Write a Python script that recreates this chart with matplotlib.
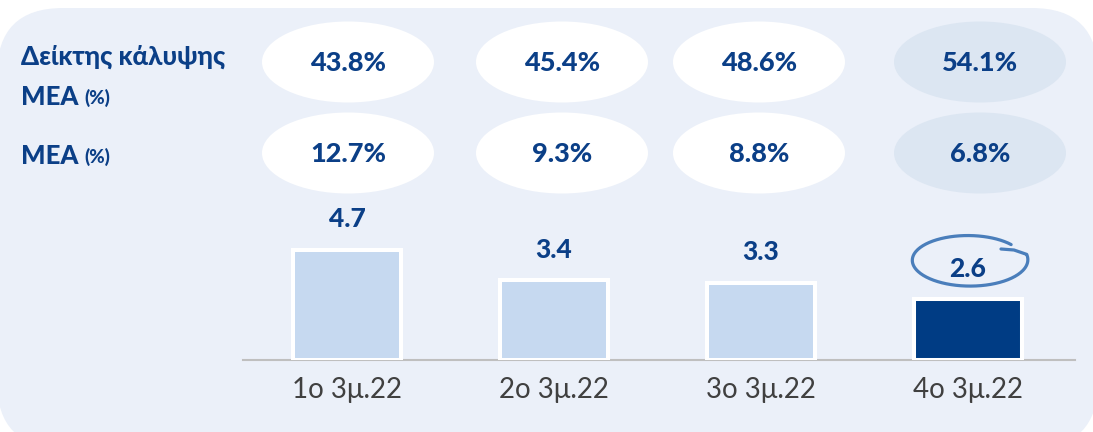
import numpy as np
import matplotlib
matplotlib.use("Agg")
import matplotlib.pyplot as plt
from matplotlib.patches import FancyBboxPatch, Ellipse

# data
quarters = ["1ο 3μ.22", "2ο 3μ.22", "3ο 3μ.22", "4ο 3μ.22"]
npe_amount = [4.7, 3.4, 3.3, 2.6]
coverage = [43.8, 45.4, 48.6, 54.1]
npe_ratio = [12.7, 9.3, 8.8, 6.8]

### colours
panel_col = "#EBF0F9"
pill_hi = "#DCE6F2"
bar_light = "#C6D9F0"
bar_dark = "#003C84"
txt_blue = "#0B3F87"
ring_col = "#4A7EBB"

W, H = 1093, 432
fig = plt.figure(figsize=(W / 100, H / 100), dpi=100)
fig.patch.set_facecolor("white")
plt.rcParams["font.family"] = ["Lato", "DejaVu Sans"]
heavy = 900

### background layer in pixel coords
bg = fig.add_axes([0, 0, 1, 1])
bg.set_xlim(0, W)
bg.set_ylim(H, 0)
bg.axis("off")
bg.add_patch(FancyBboxPatch((-3, 8), W + 8, 440,
                            boxstyle="round,pad=0,rounding_size=66",
                            fc=panel_col, ec="none"))

### pills with the ratios
pill_x = [348, 562, 759, 980]
row_y = [62, 153]
for row, vals in zip(row_y, [coverage, npe_ratio]):
    for i, v in enumerate(vals):
        fc = pill_hi if i == len(vals) - 1 else "white"
        bg.add_patch(Ellipse((pill_x[i], row), 172, 81, fc=fc, ec="none"))
        bg.text(pill_x[i], row + 1, f"{v:.1f}%", ha="center", va="center",
                fontsize=19.5, fontweight=heavy, color=txt_blue)

### row labels
bg.text(21, 57, "Δείκτης κάλυψης", ha="left", va="center",
        fontsize=18.5, fontweight=heavy, color=txt_blue)
for y in [97, 156]:
    bg.text(21, y, "ΜΕΑ", ha="left", va="center",
            fontsize=18.5, fontweight=heavy, color=txt_blue)
    bg.text(84, y + 1, "(%)", ha="left", va="center",
            fontsize=13.5, fontweight=heavy, color=txt_blue)

### bar chart
x0, x1 = 243, 1075
base, top = 360, 200
px_unit = 23.4
ax = fig.add_axes([x0 / W, (H - base) / H, (x1 - x0) / W, (base - top) / H])
ax.patch.set_alpha(0)
x = np.arange(len(quarters))
colors = [bar_light] * (len(quarters) - 1) + [bar_dark]
ax.bar(x, npe_amount, width=0.517, color=colors, edgecolor="white",
       linewidth=2.9, zorder=3)
ax.set_xlim((x0 - 347) / 207, (x1 - 347) / 207)
ax.set_ylim(0, (base - top) / px_unit)

for xi, v in zip(x, npe_amount):
    ax.annotate(f"{v:.1f}", (xi, v), xytext=(0, 22), textcoords="offset points",
                ha="center", va="center", fontsize=19, fontweight=heavy,
                color=txt_blue)

for s in ["top", "right", "left"]:
    ax.spines[s].set_visible(False)
ax.spines["bottom"].set_color("#BFBFBF")
ax.spines["bottom"].set_linewidth(1.5)
ax.set_yticks([])
ax.set_xticks(x)
ax.set_xticklabels(quarters, fontsize=20, color="#404040")
ax.tick_params(axis="x", length=0, pad=12)

### hand-drawn ring around the last value
t = np.linspace(np.radians(40), np.radians(372), 200)
rx = np.linspace(55, 59, t.size)
ry = np.linspace(24, 27, t.size)
cx, cy = 969, 260
px = cx + rx * np.cos(t)
py = cy - ry * np.sin(t)
px = np.append(px, [1014, 1001])
py = np.append(py, [250, 249])
bg.plot(px, py, color=ring_col, lw=2.3, solid_capstyle="round")

fig.savefig("out.png", dpi=100)
